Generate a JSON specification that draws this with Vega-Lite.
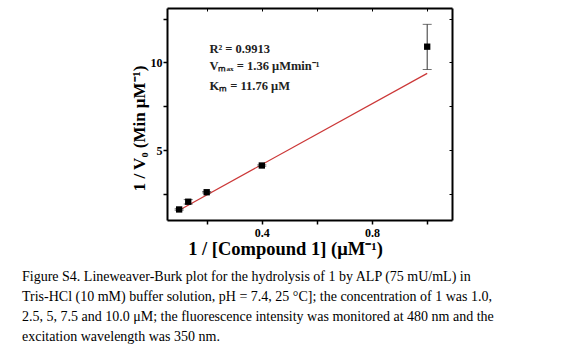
{
  "$schema": "https://vega.github.io/schema/vega-lite/v6.json",
  "width": 285,
  "height": 212,
  "padding": {"left": 22, "top": 7, "right": 5, "bottom": 10},
  "background": "white",
  "config": {
    "view": {"stroke": null},
    "font": "Liberation Serif"
  },
  "title": {
    "text": [
      "Figure S4. Lineweaver-Burk plot for the hydrolysis of 1 by ALP (75 mU/mL) in",
      "Tris-HCl (10 mM) buffer solution, pH = 7.4, 25 °C]; the concentration of 1 was 1.0,",
      "2.5, 5, 7.5 and 10.0 μM; the fluorescence intensity was monitored at 480 nm and the",
      "excitation wavelength was 350 nm."
    ],
    "orient": "bottom",
    "anchor": "start",
    "frame": "group",
    "dx": -145,
    "offset": 12,
    "font": "Liberation Serif",
    "fontSize": 14,
    "fontWeight": "normal",
    "color": "black",
    "lineHeight": 20.3
  },
  "datasets": {
    "points": [
      {"x": 0.1, "y": 1.64, "lo": 1.6, "hi": 1.68},
      {"x": 0.133, "y": 2.08, "lo": 1.95, "hi": 2.2},
      {"x": 0.2, "y": 2.62, "lo": 2.58, "hi": 2.66},
      {"x": 0.4, "y": 4.14, "lo": 4.1, "hi": 4.18},
      {"x": 1.0, "y": 10.9, "lo": 9.6, "hi": 12.17}
    ],
    "fit": [
      {"x": 0.1, "y": 1.6},
      {"x": 1.0, "y": 9.38}
    ],
    "notes": [
      {"x": 0.21, "y": 10.75, "label": "R² = 0.9913"},
      {"x": 0.21, "y": 9.8, "label": "Vₘₐₓ = 1.36 μMmin⁻¹"},
      {"x": 0.21, "y": 8.69, "label": "Kₘ = 11.76 μM"}
    ]
  },
  "resolve": {"axis": {"x": "independent", "y": "independent"}},
  "layer": [
    {
      "data": {"name": "fit"},
      "mark": {"type": "line", "color": "#cc3838", "strokeWidth": 1.2},
      "encoding": {
        "x": {
          "field": "x", "type": "quantitative",
          "scale": {"domain": [0.056, 1.09], "nice": false, "zero": false},
          "axis": {
            "values": [0.2, 0.4, 0.6, 0.8, 1.0],
            "labelExpr": "datum.value == 0.4 || datum.value == 0.8 ? format(datum.value, '.1f') : ''",
            "grid": false,
            "domainColor": "black", "domainWidth": 2,
            "tickColor": "black", "tickWidth": 1.5, "tickSize": 4,
            "labelFont": "Liberation Serif", "labelFontWeight": "bold", "labelFontSize": 12, "labelColor": "black",
            "labelPadding": 3,
            "title": "1 / [Compound 1] (μM⁻¹)",
            "titleFont": "Liberation Serif", "titleFontWeight": "bold", "titleFontSize": 18.5, "titleColor": "black",
            "titleX": 118, "titleAlign": "center", "titlePadding": 1
          }
        },
        "y": {
          "field": "y", "type": "quantitative",
          "scale": {"domain": [1.04, 13.1], "nice": false, "zero": false},
          "axis": {
            "values": [2.5, 5, 7.5, 10, 12.5],
            "labelExpr": "datum.value == 5 || datum.value == 10 ? datum.label : ''",
            "grid": false,
            "domainColor": "black", "domainWidth": 2,
            "tickColor": "black", "tickWidth": 1.5, "tickSize": 4,
            "labelFont": "Liberation Serif", "labelFontWeight": "bold", "labelFontSize": 12, "labelColor": "black",
            "labelPadding": 1,
            "title": "1 / V₀ (Min μM⁻¹)",
            "titleFont": "Liberation Serif", "titleFontWeight": "bold", "titleFontSize": 17, "titleColor": "black",
            "titleY": 120, "titleAlign": "center", "titlePadding": 2
          }
        }
      }
    },
    {
      "data": {"name": "fit"},
      "mark": {"type": "line", "opacity": 0},
      "encoding": {
        "x": {
          "field": "x", "type": "quantitative",
          "axis": {
            "orient": "top", "values": [0.2, 0.4, 0.6, 0.8, 1.0], "labels": false, "title": null, "grid": false,
            "domainColor": "black", "domainWidth": 2,
            "tickColor": "black", "tickWidth": 1, "tickSize": -3
          }
        },
        "y": {
          "field": "y", "type": "quantitative",
          "axis": {
            "orient": "right", "values": [2.5, 5, 7.5, 10, 12.5], "labels": false, "title": null, "grid": false,
            "domainColor": "black", "domainWidth": 2,
            "tickColor": "black", "tickWidth": 1, "tickSize": -3
          }
        }
      }
    },
    {
      "data": {"name": "points"},
      "mark": {"type": "errorbar", "ticks": {"size": 9, "color": "#333333"}, "rule": {"color": "#333333", "strokeWidth": 1}},
      "encoding": {
        "x": {"field": "x", "type": "quantitative", "axis": null},
        "y": {"field": "lo", "type": "quantitative", "axis": null},
        "y2": {"field": "hi"}
      }
    },
    {
      "data": {"name": "points"},
      "mark": {"type": "point", "shape": "square", "filled": true, "color": "black", "size": 40, "opacity": 1},
      "encoding": {
        "x": {"field": "x", "type": "quantitative", "axis": null},
        "y": {"field": "y", "type": "quantitative", "axis": null}
      }
    },
    {
      "data": {"name": "notes"},
      "mark": {"type": "text", "align": "left", "baseline": "middle", "font": "Liberation Serif", "fontWeight": "bold", "fontSize": 12.5, "color": "#222222"},
      "encoding": {
        "x": {"field": "x", "type": "quantitative", "axis": null},
        "y": {"field": "y", "type": "quantitative", "axis": null},
        "text": {"field": "label"}
      }
    }
  ]
}
